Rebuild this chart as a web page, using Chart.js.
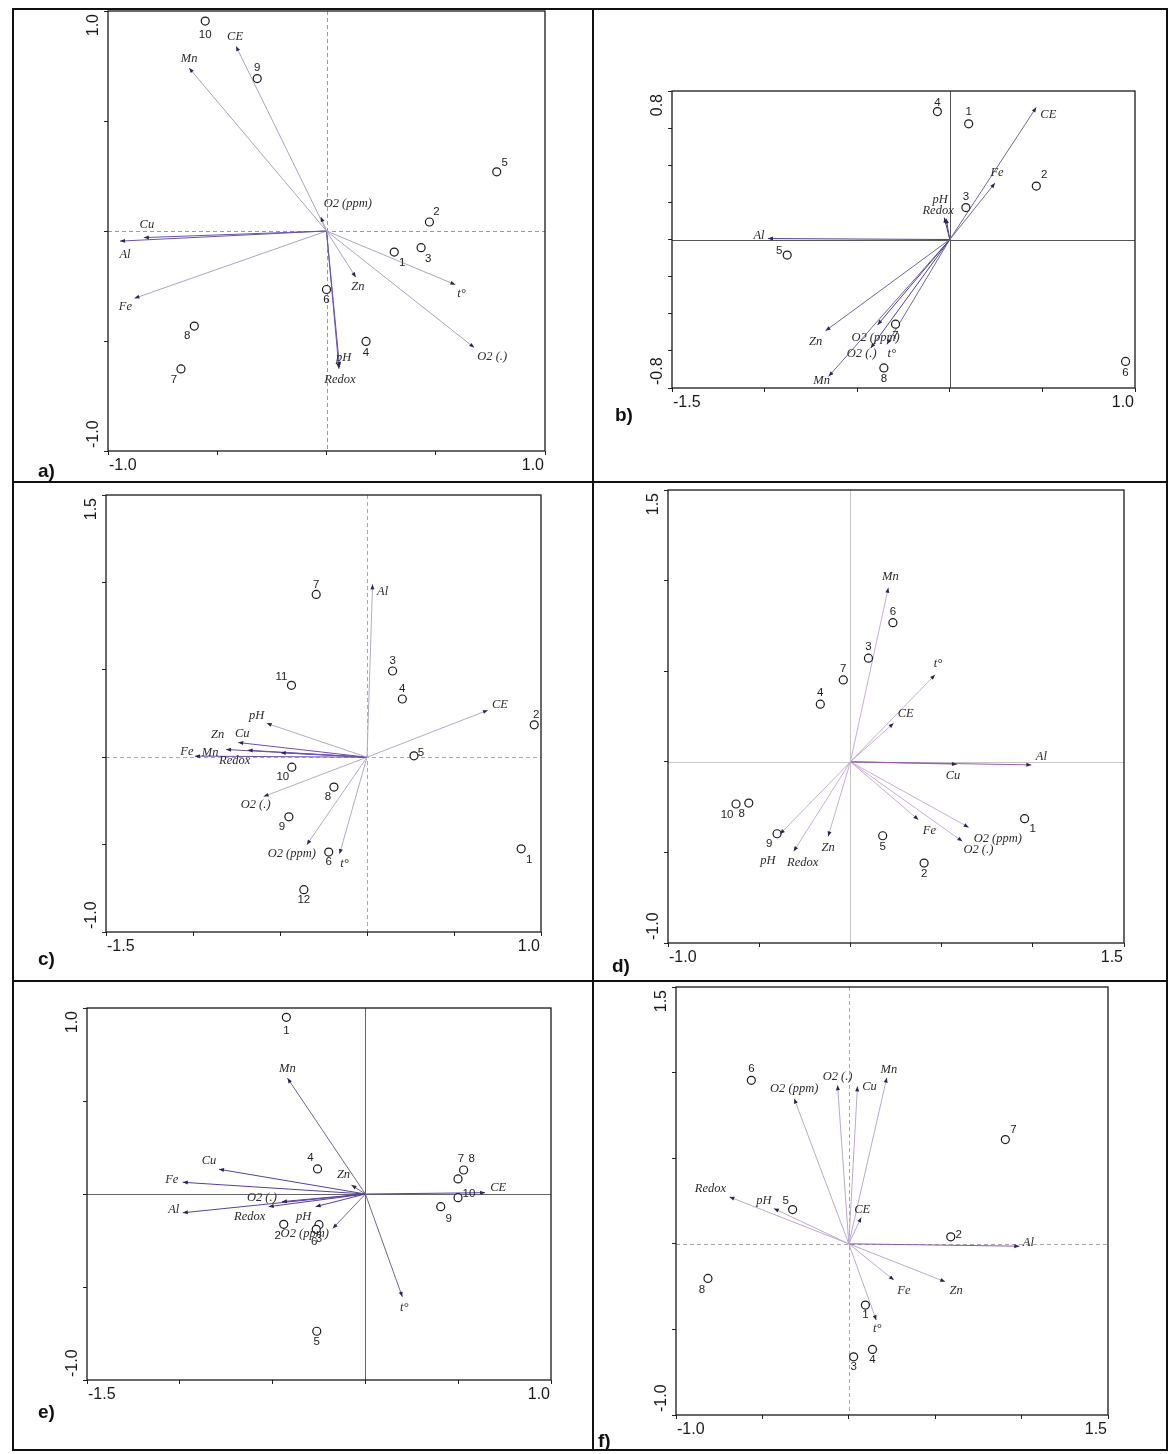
<!DOCTYPE html>
<html><head><meta charset="utf-8">
<script src="https://cdn.jsdelivr.net/npm/chart.js@4.4.1/dist/chart.umd.min.js"></script>
<style>
html,body{margin:0;padding:0;background:#fff;}
#wrap{position:relative;width:1172px;height:1454px;overflow:hidden;background:#fff;}
#wrap canvas{position:absolute;left:0;top:0;}
.bd{position:absolute;background:#111;z-index:10;}
</style></head><body>
<div id="wrap">
<div class="bd" style="left:12px;top:8px;width:1156px;height:2px"></div>
<div class="bd" style="left:12px;top:1449px;width:1156px;height:2px"></div>
<div class="bd" style="left:12px;top:8px;width:2px;height:1443px"></div>
<div class="bd" style="left:1166px;top:8px;width:2px;height:1443px"></div>
<div class="bd" style="left:592px;top:8px;width:2px;height:1443px"></div>
<div class="bd" style="left:12px;top:481px;width:1156px;height:2px"></div>
<div class="bd" style="left:12px;top:980px;width:1156px;height:2px"></div>
</div>
<script>
// ===================== DATA =====================
// Panel a
const aSiteIds = ['1','2','3','4','5','6','7','8','9','10'];
const aSiteX   = [0.310, 0.471, 0.433, 0.181, 0.779, 0.000, -0.666, -0.605, -0.317, -0.555];
const aSiteY   = [-0.096, 0.041, -0.076, -0.502, 0.269, -0.266, -0.627, -0.432, 0.693, 0.954];
const aVarNames = ['CE','Mn','O2 (ppm)','Cu','Al','Fe','Zn','t°','O2 (.)','pH','Redox'];
const aVarX     = [-0.414, -0.629, -0.026, -0.836, -0.945, -0.879, 0.134, 0.590, 0.676, 0.060, 0.057];
const aVarY     = [0.840, 0.741, 0.064, -0.030, -0.046, -0.306, -0.210, -0.244, -0.530, -0.618, -0.626];
const aXRange = [-1.0, 1.0], aYRange = [-1.0, 1.0];
const aXTickLabels = ['-1.0','1.0'], aYTickLabels = ['-1.0','1.0'];

// Panel b
const bSiteIds = ['1','2','3','4','5','6','7','8'];
const bSiteX   = [0.102, 0.467, 0.087, -0.067, -0.878, 0.949, -0.293, -0.356];
const bSiteY   = [0.623, 0.288, 0.172, 0.689, -0.084, -0.657, -0.456, -0.692];
const bVarNames = ['CE','Fe','pH','Redox','Al','Zn','O2 (ppm)','O2 (.)','t°','Mn'];
const bVarX     = [0.467, 0.244, -0.030, -0.020, -0.982, -0.671, -0.390, -0.427, -0.340, -0.654];
const bVarY     = [0.712, 0.304, 0.118, 0.113, 0.005, -0.492, -0.460, -0.585, -0.565, -0.737];
const bXRange = [-1.5, 1.0], bYRange = [-0.8, 0.8];
const bXTickLabels = ['-1.5','1.0'], bYTickLabels = ['-0.8','0.8'];

// Panel c
const cSiteIds = ['1','2','3','4','5','6','7','8','9','10','11','12'];
const cSiteX   = [0.886, 0.961, 0.147, 0.203, 0.270, -0.220, -0.292, -0.190, -0.449, -0.432, -0.434, -0.363];
const cSiteY   = [-0.524, 0.185, 0.493, 0.333, 0.008, -0.543, 0.931, -0.171, -0.341, -0.057, 0.411, -0.758];
const cVarNames = ['Al','CE','pH','Cu','Zn','Fe','Mn','Redox','O2 (.)','O2 (ppm)','t°'];
const cVarX     = [0.032, 0.695, -0.577, -0.740, -0.686, -0.989, -0.810, -0.496, -0.594, -0.346, -0.158];
const cVarY     = [0.989, 0.269, 0.194, 0.084, 0.040, 0.006, 0.044, 0.025, -0.225, -0.501, -0.554];
const cXRange = [-1.5, 1.0], cYRange = [-1.0, 1.5];
const cXTickLabels = ['-1.5','1.0'], cYTickLabels = ['-1.0','1.5'];

// Panel d
const dSiteIds = ['1','2','3','4','5','6','7','8','9','10'];
const dSiteX   = [0.955, 0.404, 0.099, -0.165, 0.177, 0.233, -0.039, -0.557, -0.402, -0.627];
const dSiteY   = [-0.314, -0.559, 0.572, 0.318, -0.408, 0.768, 0.452, -0.228, -0.397, -0.233];
const dVarNames = ['Mn','t°','CE','Al','Cu','Fe','O2 (ppm)','O2 (.)','Zn','Redox','pH'];
const dVarX     = [0.208, 0.464, 0.237, 0.992, 0.584, 0.373, 0.649, 0.614, -0.122, -0.311, -0.386];
const dVarY     = [0.961, 0.480, 0.213, -0.017, -0.013, -0.320, -0.362, -0.439, -0.412, -0.494, -0.399];
const dXRange = [-1.0, 1.5], dYRange = [-1.0, 1.5];
const dXTickLabels = ['-1.0','1.5'], dYTickLabels = ['-1.0','1.5'];

// Panel e
const eSiteIds = ['1','2','3','4','5','6','7','8','9','10'];
const eSiteX   = [-0.426, -0.440, -0.250, -0.258, -0.262, -0.265, 0.499, 0.529, 0.406, 0.499];
const eSiteY   = [0.950, -0.163, -0.165, 0.135, -0.738, -0.190, 0.081, 0.129, -0.068, -0.020];
const eVarNames = ['Mn','Cu','Fe','Al','O2 (.)','Redox','pH','Zn','O2 (ppm)','t°','CE'];
const eVarX     = [-0.420, -0.789, -0.984, -0.984, -0.450, -0.521, -0.268, -0.075, -0.176, 0.199, 0.645];
const eVarY     = [0.623, 0.133, 0.063, -0.101, -0.041, -0.068, -0.068, 0.048, -0.185, -0.553, 0.007];
const eXRange = [-1.5, 1.0], eYRange = [-1.0, 1.0];
const eXTickLabels = ['-1.5','1.0'], eYTickLabels = ['-1.0','1.0'];

// Panel f
const fSiteIds = ['1','2','3','4','5','6','7','8'];
const fSiteX   = [0.096, 0.590, 0.028, 0.137, -0.325, -0.564, 0.906, -0.815];
const fSiteY   = [-0.358, 0.041, -0.660, -0.617, 0.200, 0.955, 0.609, -0.202];
const fVarNames = ['O2 (ppm)','O2 (.)','Cu','Mn','Redox','pH','CE','Al','Fe','Zn','t°'];
const fVarX     = [-0.316, -0.065, 0.050, 0.220, -0.691, -0.434, 0.072, 0.987, 0.261, 0.558, 0.159];
const fVarY     = [0.848, 0.926, 0.920, 0.971, 0.274, 0.206, 0.154, -0.014, -0.212, -0.222, -0.446];
const fXRange = [-1.0, 1.5], fYRange = [-1.0, 1.5];
const fXTickLabels = ['-1.0','1.5'], fYTickLabels = ['-1.0','1.5'];

const panelTitles = ['a)','b)','c)','d)','e)','f)'];

// ===================== STYLE / LAYOUT =====================
// plot boxes [left, top, right, bottom] in page pixels
const boxes = {
  a:[108,11,545,451], b:[672,91,1135,388], c:[106,495,541,932],
  d:[668,490,1124,943], e:[87,1008,551,1380], f:[676,987,1108,1415]
};
const titlePos = { a:[38,472], b:[615,416], c:[38,960], d:[612,967], e:[38,1413], f:[598,1442] };
const steps = { a:[0.5,0.5], b:[0.5,0.2], c:[0.5,0.5], d:[0.5,0.5], e:[0.5,0.5], f:[0.5,0.5] };
// label offsets in pixels [dx,dy]
const siteOff = {
  a:[[8,11],[7,-10],[7,11],[0,11],[8,-9],[0,10],[-7,11],[-7,10],[0,-11],[0,14]],
  b:[[0,-12],[8,-11],[0,-11],[0,-9],[-8,-4],[0,11],[0,12],[0,11]],
  c:[[8,11],[2,-10],[0,-10],[0,-10],[7,-3],[0,10],[0,-10],[-6,10],[-7,10],[-9,10],[-10,-9],[0,10]],
  d:[[8,10],[0,11],[0,-11],[0,-11],[0,11],[0,-11],[0,-11],[-7,11],[-8,10],[-9,11]],
  e:[[0,14],[-6,12],[0,14],[-7,-11],[0,11],[-2,12],[3,-20],[8,-11],[8,12],[11,-4]],
  f:[[0,10],[8,-2],[0,10],[0,10],[-7,-9],[0,-11],[8,-10],[-6,11]]
};
const varOff = {
  a:[[-1,-9],[0,-9],[27,-13],[3,-13],[5,14],[-9,8],[2,10],[6,9],[18,9],[4,-9],[1,11]],
  b:[[12,7],[2,-10],[-4,-18],[-8,-8],[-9,-3],[-10,11],[-2,13],[-9,6],[5,9],[-7,4]],
  c:[[10,7],[12,-5],[-10,-8],[4,-9],[-30,-15],[-8,-4],[-16,3],[-46,8],[-8,8],[-15,9],[5,10]],
  d:[[2,-11],[3,-11],[12,-9],[10,-8],[-4,12],[11,11],[29,11],[16,8],[0,11],[9,11],[-12,27]],
  e:[[0,-9],[-10,-9],[-11,-3],[-9,-3],[-20,-4],[-19,10],[-12,10],[-8,-10],[-28,5],[2,11],[13,-5]],
  f:[[0,-10],[0,-9],[12,0],[2,-8],[-19,-8],[-10,-8],[1,-8],[9,-3],[10,11],[11,9],[1,9]]
};
const lineStyle = {
  a:{light:'#aaa4be', dark:'#6b52b2', darkSet:['Cu','Al','pH','Redox'], zero:'#9a9a9a', dash:[4,3]},
  b:{light:'#6e6a98', dark:'#4e3f9c', darkSet:['Al','O2 (ppm)','O2 (.)','pH','Redox'], zero:'#555', dash:[]},
  c:{light:'#b2aac8', dark:'#6d4fae', darkSet:['Fe','Mn','Redox','Cu','Zn'], zero:'#aaa', dash:[4,3]},
  d:{light:'#c9aed6', dark:'#9a5cae', darkSet:['Al','Cu'], zero:'#c6c6c6', dash:[]},
  e:{light:'#6f6a88', dark:'#5a3f9e', darkSet:['Fe','Al','Redox','O2 (.)','Cu','pH','CE'], zero:'#666', dash:[]},
  f:{light:'#bba9d2', dark:'#8a5aaa', darkSet:['Al'], zero:'#aaa', dash:[4,3]}
};

const panels = {
  a:{ids:aSiteIds,sx:aSiteX,sy:aSiteY,vn:aVarNames,vx:aVarX,vy:aVarY,xr:aXRange,yr:aYRange,xl:aXTickLabels,yl:aYTickLabels,t:panelTitles[0]},
  b:{ids:bSiteIds,sx:bSiteX,sy:bSiteY,vn:bVarNames,vx:bVarX,vy:bVarY,xr:bXRange,yr:bYRange,xl:bXTickLabels,yl:bYTickLabels,t:panelTitles[1]},
  c:{ids:cSiteIds,sx:cSiteX,sy:cSiteY,vn:cVarNames,vx:cVarX,vy:cVarY,xr:cXRange,yr:cYRange,xl:cXTickLabels,yl:cYTickLabels,t:panelTitles[2]},
  d:{ids:dSiteIds,sx:dSiteX,sy:dSiteY,vn:dVarNames,vx:dVarX,vy:dVarY,xr:dXRange,yr:dYRange,xl:dXTickLabels,yl:dYTickLabels,t:panelTitles[3]},
  e:{ids:eSiteIds,sx:eSiteX,sy:eSiteY,vn:eVarNames,vx:eVarX,vy:eVarY,xr:eXRange,yr:eYRange,xl:eXTickLabels,yl:eYTickLabels,t:panelTitles[4]},
  f:{ids:fSiteIds,sx:fSiteX,sy:fSiteY,vn:fVarNames,vx:fVarX,vy:fVarY,xr:fXRange,yr:fYRange,xl:fXTickLabels,yl:fYTickLabels,t:panelTitles[5]}
};

const W = 1172, H = 1454;
const SANS = '"Liberation Sans", Arial, sans-serif';
const SERIF = '"Liberation Serif", "Times New Roman", serif';

const biplotPlugin = {
  id:'biplot',
  beforeDatasetsDraw(chart, args, opts){
    const ctx = chart.ctx, ca = chart.chartArea;
    const xs = chart.scales.x, ys = chart.scales.y;
    const st = opts.style;
    ctx.save();
    ctx.strokeStyle = st.zero; ctx.lineWidth = 1; ctx.setLineDash(st.dash);
    const x0 = Math.round(xs.getPixelForValue(0)) + 0.5, y0 = Math.round(ys.getPixelForValue(0)) + 0.5;
    ctx.beginPath(); ctx.moveTo(x0, ca.top); ctx.lineTo(x0, ca.bottom);
    ctx.moveTo(ca.left, y0); ctx.lineTo(ca.right, y0); ctx.stroke();
    ctx.setLineDash([]);
    ctx.strokeStyle = '#1a1a1a'; ctx.lineWidth = 1.3;
    ctx.strokeRect(ca.left, ca.top, ca.right - ca.left, ca.bottom - ca.top);
    ctx.restore();
  },
  afterDatasetsDraw(chart, args, opts){
    const ctx = chart.ctx, ca = chart.chartArea;
    const xs = chart.scales.x, ys = chart.scales.y;
    const p = opts.panel;
    ctx.save();
    // arrowheads and variable labels
    chart.data.datasets.forEach((ds, di) => {
      if (!ds.isArrow) return;
      const pts = chart.getDatasetMeta(di).data;
      const a = pts[0], b = pts[1];
      const ang = Math.atan2(b.y - a.y, b.x - a.x);
      const L = 5, Wd = 2;
      ctx.fillStyle = '#2a2450';
      ctx.beginPath();
      ctx.moveTo(b.x, b.y);
      ctx.lineTo(b.x - L*Math.cos(ang) + Wd*Math.sin(ang), b.y - L*Math.sin(ang) - Wd*Math.cos(ang));
      ctx.lineTo(b.x - L*Math.cos(ang) - Wd*Math.sin(ang), b.y - L*Math.sin(ang) + Wd*Math.cos(ang));
      ctx.closePath(); ctx.fill();
      const off = opts.varOff[ds.varIndex] || [0,0];
      ctx.fillStyle = '#2b2b2b';
      ctx.font = 'italic 12.5px ' + SERIF;
      ctx.textAlign = 'center'; ctx.textBaseline = 'middle';
      ctx.fillText(ds.label, b.x + off[0], b.y + off[1]);
    });
    // site labels
    const siteIdx = chart.data.datasets.findIndex(d => d.isSites);
    const spts = chart.getDatasetMeta(siteIdx).data;
    ctx.font = '11.5px ' + SANS; ctx.fillStyle = '#1e1e1e';
    ctx.textAlign = 'center'; ctx.textBaseline = 'middle';
    spts.forEach((pt, i) => {
      const off = opts.siteOff[i] || [0,10];
      ctx.fillText(p.ids[i], pt.x + off[0], pt.y + off[1]);
    });
    // axis end labels
    ctx.font = '16px ' + SANS; ctx.fillStyle = '#1a1a1a';
    ctx.textBaseline = 'middle';
    const xl = xs.getPixelForValue(p.xr[0]), xr = xs.getPixelForValue(p.xr[1]);
    ctx.textAlign = 'left'; ctx.fillText(p.xl[0], xl + 1, ca.bottom + 15);
    ctx.textAlign = 'right'; ctx.fillText(p.xl[1], xr - 1, ca.bottom + 15);
    const yb = ys.getPixelForValue(p.yr[0]), yt = ys.getPixelForValue(p.yr[1]);
    ctx.save(); ctx.translate(ca.left - 14, yt + 3); ctx.rotate(-Math.PI/2);
    ctx.textAlign = 'right'; ctx.fillText(p.yl[1], 0, 0); ctx.restore();
    ctx.save(); ctx.translate(ca.left - 14, yb - 3); ctx.rotate(-Math.PI/2);
    ctx.textAlign = 'left'; ctx.fillText(p.yl[0], 0, 0); ctx.restore();
    // panel title
    ctx.font = 'bold 19px ' + SANS; ctx.textAlign = 'left'; ctx.fillStyle = '#111';
    ctx.fillText(p.t, opts.titlePos[0], opts.titlePos[1]);
    ctx.restore();
  }
};

const wrap = document.getElementById('wrap');
Object.keys(panels).forEach(key => {
  const p = panels[key], box = boxes[key], st = lineStyle[key];
  const cv = document.createElement('canvas');
  cv.width = W; cv.height = H;
  wrap.insertBefore(cv, wrap.firstChild);
  const datasets = [];
  p.vn.forEach((n, i) => {
    const col = st.darkSet.includes(n) ? st.dark : st.light;
    datasets.push({
      type:'line', label:n, isArrow:true, varIndex:i,
      data:[{x:0,y:0},{x:p.vx[i], y:p.vy[i]}],
      borderColor:col, borderWidth:1, pointRadius:0, pointHoverRadius:0,
      fill:false, tension:0, order:2
    });
  });
  datasets.push({
    type:'scatter', label:'sites', isSites:true,
    data:p.sx.map((x, i) => ({x, y:p.sy[i]})),
    pointStyle:'circle', pointRadius:4, pointBorderColor:'#1a1a1a',
    pointBackgroundColor:'#ffffff', pointBorderWidth:1.2, order:1
  });
  new Chart(cv, {
    type:'scatter',
    data:{datasets},
    options:{
      responsive:false, animation:false, events:[],
      clip:false,
      layout:{padding:{left:box[0], top:box[1], right:W - box[2], bottom:H - box[3]}},
      plugins:{
        legend:{display:false}, tooltip:{enabled:false},
        biplot:{panel:p, style:st, siteOff:siteOff[key], varOff:varOff[key], titlePos:titlePos[key]}
      },
      scales:{
        x:{type:'linear', min:p.xr[0], max:p.xr[1],
           ticks:{display:false, stepSize:steps[key][0]},
           grid:{drawOnChartArea:false, drawTicks:true, tickLength:4, color:'#222', lineWidth:1},
           border:{display:false},
           afterFit(s){ s.height = 0; }},
        y:{type:'linear', min:p.yr[0], max:p.yr[1],
           ticks:{display:false, stepSize:steps[key][1]},
           grid:{drawOnChartArea:false, drawTicks:true, tickLength:4, color:'#222', lineWidth:1},
           border:{display:false},
           afterFit(s){ s.width = 0; }}
      }
    },
    plugins:[biplotPlugin]
  });
});
</script>
</body></html>
